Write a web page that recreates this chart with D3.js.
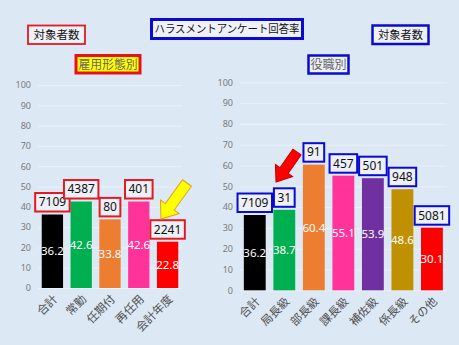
<!DOCTYPE html>
<html><head><meta charset="utf-8">
<script src="https://cdn.jsdelivr.net/npm/d3@7"></script>
<style>
html,body{margin:0;padding:0;background:#dde8f5;}
svg{display:block;font-family:"Noto Sans CJK JP","Noto Sans",sans-serif;}
</style></head><body>
<svg id="c" width="459" height="345"></svg>
<script>
const leftCats = ["合計","常勤","任期付","再任用","会計年度"];
const leftRates = [36.2,42.6,33.8,42.6,22.8];
const leftCounts = [7109,4387,80,401,2241];
const leftColors = ["#000000","#00b050","#ed7d31","#ff3399","#ff0000"];

const rightCats = ["合計","局長級","部長級","課長級","補佐級","係長級","その他"];
const rightRates = [36.2,38.7,60.4,55.1,53.9,48.6,30.1];
const rightCounts = [7109,31,91,457,501,948,5081];
const rightColors = ["#000000","#00b050","#ed7d31","#ff3399","#7030a0","#bf9000","#ff0000"];

const yTicks = [0,10,20,30,40,50,60,70,80,90,100];

const svg = d3.select("#c");
svg.append("rect").attr("width",459).attr("height",345).attr("fill","#dde8f5");

function panel(cfg){
  const x = d3.scaleBand().domain(cfg.cats).range(cfg.xr).paddingInner(0.26).paddingOuter(0.13);
  const y = d3.scaleLinear().domain([0,100]).range(cfg.yr);
  const g = svg.append("g");
  const ya = d3.axisLeft(y).tickValues(yTicks).tickSize(-(cfg.xr[1]-cfg.xr[0])).tickPadding(7);
  const yg = g.append("g").attr("transform",`translate(${cfg.xr[0]},0)`).call(ya);
  yg.select(".domain").remove();
  yg.selectAll("line").attr("stroke","#ecf1f9").attr("stroke-width",1);
  yg.selectAll("text").attr("fill","#7a7a7a").style("font-size","9px").style("font-family","'Noto Sans','Liberation Sans',sans-serif");
  const xa = d3.axisBottom(x).tickSize(0);
  const xg = g.append("g").attr("transform",`translate(0,${cfg.yr[0]})`).call(xa);
  xg.select(".domain").remove();
  xg.selectAll("text").attr("x",0).attr("y",0).attr("dy","0.35em")
    .attr("transform","translate(3,9) rotate(-45)")
    .attr("text-anchor","end").attr("fill","#505050").style("font-size","11.5px")
    .style("font-family","'Noto Sans CJK JP',sans-serif");
  const data = cfg.cats.map((c,i)=>({c, v:cfg.rates[i], n:cfg.counts[i], col:cfg.colors[i]}));
  g.selectAll("rect.bar").data(data).join("rect").attr("class","bar")
    .attr("x",d=>x(d.c)).attr("width",x.bandwidth())
    .attr("y",d=>y(d.v)).attr("height",d=>y(0)-y(d.v))
    .attr("fill",d=>d.col);
  g.selectAll("text.val").data(data).join("text").attr("class","val")
    .attr("x",d=>x(d.c)+x.bandwidth()/2).attr("y",d=>(y(d.v)+y(0))/2)
    .attr("dy","0.36em").attr("text-anchor","middle").attr("fill","#ffffff")
    .style("font-size","11.5px").style("font-family","'Noto Sans','Lato',sans-serif")
    .text(d=>d.v.toFixed(1));
  data.forEach(d=>{
    const cx = x(d.c)+x.bandwidth()/2;
    const bottom = y(d.v)-3;
    const t = g.append("text").attr("x",cx).attr("y",bottom-9.5).attr("dy","0.36em")
      .attr("text-anchor","middle").attr("fill","#111").style("font-size","12px")
      .style("font-family","'Noto Sans','Lato',sans-serif").text(d.n);
    const w = t.node().getComputedTextLength()+7;
    g.insert("rect",()=>t.node()).attr("x",cx-w/2).attr("y",bottom-18.5).attr("width",w).attr("height",18.5)
      .attr("fill","#edf0f6").attr("stroke",cfg.boxStroke).attr("stroke-width",2);
  });
}

panel({cats:leftCats, rates:leftRates, counts:leftCounts, colors:leftColors,
  xr:[38,182], yr:[288,85], boxStroke:"#e01b24"});
panel({cats:rightCats, rates:rightRates, counts:rightCounts, colors:rightColors,
  xr:[240,446.7], yr:[290.3,82.3], boxStroke:"#0a0ad0"});

function labelBox(x0,y0,w,h,txt,opt){
  svg.append("rect").attr("x",x0).attr("y",y0).attr("width",w).attr("height",h)
    .attr("fill",opt.fill).attr("stroke",opt.stroke).attr("stroke-width",opt.sw);
  svg.append("text").attr("x",x0+w/2).attr("y",y0+h/2).attr("dy","0.36em")
    .attr("text-anchor","middle").attr("fill",opt.color).style("font-size",opt.fs+"px")
    .attr("textLength",opt.tl).attr("lengthAdjust","spacingAndGlyphs")
    .text(txt);
}
labelBox(28,25.5,57,18.5,"対象者数",{fill:"#eef1f7",stroke:"#e01b24",sw:1.8,color:"#111",fs:11.5,tl:46});
labelBox(76,55.5,64,17.5,"雇用形態別",{fill:"#ffff00",stroke:"#e8101a",sw:3,color:"#666",fs:12,tl:59});
labelBox(151.5,19.5,151,19,"ハラスメントアンケート回答率",{fill:"#eef1f7",stroke:"#0a0ad0",sw:3,color:"#111",fs:11,tl:145});
labelBox(372.5,25.5,56,18.5,"対象者数",{fill:"#eef1f7",stroke:"#0a0ad0",sw:2.5,color:"#111",fs:11.5,tl:45});
labelBox(308.5,55.5,40,18,"役職別",{fill:"#eef1f7",stroke:"#0a0ad0",sw:2.5,color:"#666",fs:12,tl:36});

function arrow(tip, tail, headW, headL, shaftW, fill, stroke){
  const dx = tail[0]-tip[0], dy = tail[1]-tip[1];
  const L = Math.hypot(dx,dy);
  const ang = Math.atan2(dy,dx)*180/Math.PI;
  const pts = [[0,0],[headL,-headW/2],[headL,-shaftW/2],[L,-shaftW/2],[L,shaftW/2],[headL,shaftW/2],[headL,headW/2]];
  svg.append("path").attr("d","M"+pts.map(p=>p.join(",")).join("L")+"Z")
    .attr("transform",`translate(${tip[0]},${tip[1]}) rotate(${ang})`)
    .attr("fill",fill).attr("stroke",stroke).attr("stroke-width",1).attr("stroke-linejoin","miter");
}
arrow([161,219],[187,183],23,15,11,"#ffff00","#e0a020");
arrow([276,182],[297,152],21,14,10,"#ff0000","#c00000");
</script>
</body></html>
